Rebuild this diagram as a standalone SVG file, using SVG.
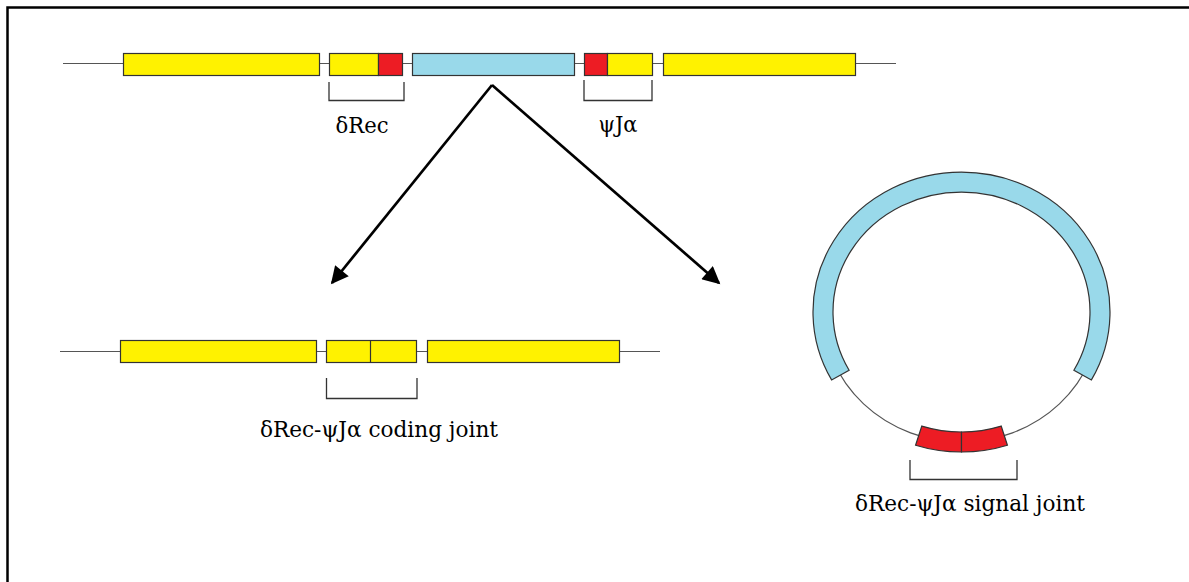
<svg xmlns="http://www.w3.org/2000/svg" width="1189" height="582" viewBox="0 0 1189 582">
  <defs>
    <style>
      .frame { stroke: #000; stroke-width: 2.5; fill: none; }
      .dna { stroke: #555; stroke-width: 1.2; fill: none; }
      .seg { stroke: #333; stroke-width: 1.2; }
      .yel { fill: #FFF200; }
      .red { fill: #ED1C24; }
      .blu { fill: #99D9EA; }
      .brk { stroke: #333; stroke-width: 1.3; fill: none; }
      .lbl { font-family: "DejaVu Serif", "Liberation Serif", serif; font-size: 22px; fill: #000; text-anchor: middle; }
      .arrow { stroke: #000; stroke-width: 2.7; fill: none; }
    </style>
    <marker id="head" viewBox="0 0 10 10" refX="9" refY="5" markerWidth="7" markerHeight="6.5" markerUnits="strokeWidth" orient="auto">
      <path d="M0,0 L10,5 L0,10 Z" fill="#000"/>
    </marker>
  </defs>

  <rect width="1189" height="582" fill="#fff"/>
  <!-- page frame (top and left edges) -->
  <path class="frame" d="M7.5,582 V7.5 H1189"/>

  <!-- germline locus -->
  <g id="germline">
    <line class="dna" x1="63" y1="63.5" x2="896" y2="63.5"/>
    <rect class="seg yel" x="123.5" y="53.5" width="196" height="22"/>
    <rect class="seg yel" x="329.5" y="53.5" width="49" height="22"/>
    <rect class="seg red" x="378.5" y="53.5" width="24" height="22"/>
    <rect class="seg blu" x="412.5" y="53.5" width="162" height="22"/>
    <rect class="seg red" x="584.5" y="53.5" width="23" height="22"/>
    <rect class="seg yel" x="607.5" y="53.5" width="45" height="22"/>
    <rect class="seg yel" x="663.5" y="53.5" width="192" height="22"/>
  </g>

  <g id="drec">
    <path class="brk" d="M329,82 V100.5 H404 V82"/>
    <text class="lbl" x="362" y="133" textLength="53" lengthAdjust="spacingAndGlyphs">δRec</text>
  </g>

  <g id="psija">
    <path class="brk" d="M584,80 V100.5 H652 V80"/>
    <text class="lbl" x="618" y="132" textLength="39" lengthAdjust="spacingAndGlyphs">ψJα</text>
  </g>

  <!-- rearrangement outcomes -->
  <g id="connectors">
    <line class="arrow" x1="492" y1="85" x2="332" y2="283" marker-end="url(#head)"/>
    <line class="arrow" x1="492" y1="85" x2="719" y2="283" marker-end="url(#head)"/>
  </g>

  <!-- coding joint on the chromosome -->
  <g id="coding-joint">
    <line class="dna" x1="60" y1="351.5" x2="660" y2="351.5"/>
    <rect class="seg yel" x="120.5" y="340.5" width="196" height="22"/>
    <rect class="seg yel" x="326.5" y="340.5" width="90" height="22"/>
    <line class="seg" x1="370.5" y1="340.5" x2="370.5" y2="362.5"/>
    <rect class="seg yel" x="427.5" y="340.5" width="192" height="22"/>
    <path class="brk" d="M326.5,378 V398.5 H417 V378"/>
    <text class="lbl" x="379" y="437" textLength="238" lengthAdjust="spacingAndGlyphs">δRec-ψJα coding joint</text>
  </g>

  <!-- excision circle with signal joint -->
  <g id="signal-joint">
    <ellipse class="dna" cx="961.5" cy="312" rx="138.5" ry="130"/>
    <path class="seg blu" d="M831.6,379.9 A148.5,140 0 1 1 1091.4,379.9 L1073.9,370.2 A128.5,120 0 1 0 849.1,370.2 Z"/>
    <path class="seg red" d="M915.6,445.2 A148.5,140 0 0 0 961.5,452 L961.5,432 A128.5,120 0 0 1 921.8,426.1 Z"/>
    <path class="seg red" d="M961.5,452 A148.5,140 0 0 0 1007.4,445.2 L1001.2,426.1 A128.5,120 0 0 1 961.5,432 Z"/>
    <path class="brk" d="M910,460 V479.5 H1017 V460"/>
    <text class="lbl" x="970" y="511" textLength="230" lengthAdjust="spacingAndGlyphs">δRec-ψJα signal joint</text>
  </g>
</svg>
